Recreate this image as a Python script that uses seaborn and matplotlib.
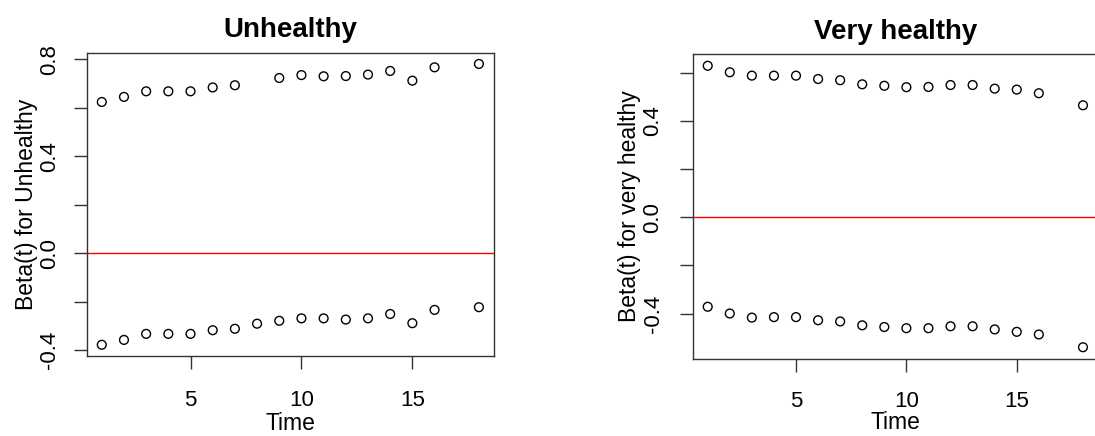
import numpy as np
import pandas as pd
import matplotlib
matplotlib.use("Agg")
import matplotlib.pyplot as plt
import seaborn as sns

# Time-varying coefficients with their upper and lower bounds
unh_time_hi = [1, 2, 3, 4, 5, 6, 7, 9, 10, 11, 12, 13, 14, 15, 16, 18]
unh_hi = [0.624, 0.645, 0.668, 0.668, 0.668, 0.684, 0.693, 0.723, 0.735,
          0.730, 0.731, 0.737, 0.752, 0.712, 0.767, 0.781]
unh_time_lo = [1, 2, 3, 4, 5, 6, 7, 8, 9, 10, 11, 12, 13, 14, 15, 16, 18]
unh_lo = [-0.378, -0.358, -0.333, -0.333, -0.333, -0.318, -0.312, -0.291,
          -0.279, -0.269, -0.269, -0.274, -0.269, -0.251, -0.289, -0.234, -0.223]

vh_time = [1, 2, 3, 4, 5, 6, 7, 8, 9, 10, 11, 12, 13, 14, 15, 16, 18]
vh_hi = [0.628, 0.601, 0.587, 0.587, 0.587, 0.573, 0.568, 0.551, 0.545,
         0.539, 0.540, 0.548, 0.548, 0.533, 0.529, 0.514, 0.464]
vh_lo = [-0.372, -0.400, -0.417, -0.415, -0.415, -0.428, -0.433, -0.449,
         -0.456, -0.461, -0.461, -0.453, -0.453, -0.466, -0.476, -0.487, -0.540]

panels = [
    ("Unhealthy", "Beta(t) for Unhealthy",
     unh_time_hi + unh_time_lo, unh_hi + unh_lo,
     [-0.4, -0.2, 0.0, 0.2, 0.4, 0.6, 0.8], ["-0.4", "", "0.0", "", "0.4", "", "0.8"]),
    ("Very healthy", "Beta(t) for very healthy",
     vh_time + vh_time, vh_hi + vh_lo,
     [-0.4, -0.2, 0.0, 0.2, 0.4, 0.6], ["-0.4", "", "0.0", "", "0.4", ""]),
]
x_ticks = [5, 10, 15]

sns.set_style("ticks")
plt.rcParams["font.family"] = ["Liberation Sans", "DejaVu Sans"]
plt.rcParams["text.color"] = "black"
plt.rcParams["axes.labelcolor"] = "black"
plt.rcParams["xtick.color"] = "black"
plt.rcParams["ytick.color"] = "black"

W, H = 1095, 436
fig = plt.figure(figsize=(W / 100, H / 100), dpi=100)

# axes boxes in pixels: left, right, top, bottom
boxes = [(86.7, 494.0, 52.7, 356.0), (692.7, 1098.0, 54.5, 358.5)]
title_pads = [11.5, 11.0]
ytick_pads = [9.4, 11.5]
ylabel_pads = [1.0, 1.0]
xtick_pads = [15.0, 14.0]
xlabel_pads = [1.0, -0.5]

for (title, ylab, t, v, yt, ytl), (l, r, top, bot), tp, yp, lp, xp, xlp in zip(
        panels, boxes, title_pads, ytick_pads, ylabel_pads, xtick_pads, xlabel_pads):
    ax = fig.add_axes([l / W, 1 - bot / H, (r - l) / W, (bot - top) / H])
    df = pd.DataFrame({"Time": t, "Beta": v})
    sns.scatterplot(data=df, x="Time", y="Beta", ax=ax, marker="o", s=40,
                    facecolor="none", edgecolor="black", linewidth=1.0, zorder=3)
    ax.axhline(0, color="red", lw=1.0, zorder=2)

    lo, hi = min(v), max(v)
    pad = 0.04 * (hi - lo)
    ax.set_ylim(lo - pad, hi + pad)
    xpad = 0.04 * (max(t) - min(t))
    ax.set_xlim(min(t) - xpad, max(t) + xpad)

    ax.set_xticks(x_ticks)
    ax.set_xticklabels([str(x) for x in x_ticks])
    ax.set_yticks(yt)
    ax.set_yticklabels(ytl, rotation=90, va="center")
    ax.tick_params(axis="both", length=9.5, width=1.0, color="#333333",
                   labelsize=16, labelcolor="black")
    ax.tick_params(axis="x", pad=xp)
    ax.tick_params(axis="y", pad=yp)

    for s in ax.spines.values():
        s.set_visible(True)
        s.set_linewidth(1.0)
        s.set_color("#333333")

    ax.set_title(title, fontsize=20, fontweight="bold", pad=tp, color="black")
    ax.set_xlabel("Time", fontsize=16.5, labelpad=xlp)
    ax.set_ylabel(ylab, fontsize=16.5, labelpad=lp)
    ax.grid(False)

fig.savefig("out.png", dpi=100)
